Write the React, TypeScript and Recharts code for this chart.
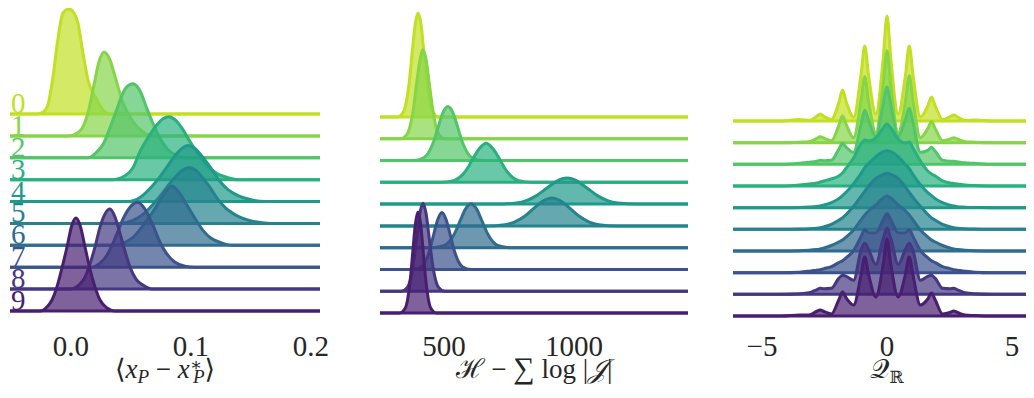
import { AreaChart, Area, XAxis, YAxis, ReferenceDot } from 'recharts';

const SERIF = '"Liberation Serif", "DejaVu Serif", serif';
const INK = '#262626';

const RIDGE_NAMES = ['0', '1', '2', '3', '4', '5', '6', '7', '8', '9'];
const COLORS = ['#c2df23', '#86d549', '#52c569', '#2ab07f', '#1f9a8a', '#25838e', '#2f6c8e', '#3b528b', '#453781', '#481f70'];

// left panel: <x_P - x_P*>, [value, density] per ridge
const POS_ERR: [number, number][][] = [
  [[-0.028, 0], [-0.023, 2], [-0.019, 10], [-0.015, 37], [-0.011, 74], [-0.0067, 101], [-0.0017, 105], [0.0025, 101], [0.0058, 91], [0.01, 61], [0.0142, 34], [0.0217, 14], [0.0267, 4], [0.0325, 0]],
  [[-0.002, 0], [0.0067, 4], [0.0108, 11], [0.015, 27], [0.0192, 51], [0.0233, 74], [0.0275, 84], [0.0325, 76], [0.0375, 56], [0.0433, 33], [0.0517, 14], [0.06, 4], [0.07, 0]],
  [[0.0142, 0], [0.0217, 6], [0.0275, 15], [0.0325, 30], [0.0375, 46], [0.0417, 60], [0.0458, 70], [0.0517, 74], [0.0575, 67], [0.0633, 49], [0.0692, 32], [0.075, 18], [0.08, 9], [0.0867, 3], [0.095, 0]],
  [[0.0342, 0], [0.045, 4], [0.0517, 12], [0.0575, 28], [0.0642, 42], [0.0717, 55], [0.0767, 61], [0.0817, 63], [0.0875, 59], [0.0933, 50], [0.0992, 38], [0.1075, 23], [0.1142, 13], [0.1217, 6], [0.1308, 2], [0.1392, 0]],
  [[0.0475, 0], [0.0575, 4], [0.0658, 13], [0.0742, 25], [0.0808, 36], [0.0875, 47], [0.0925, 53], [0.0975, 56], [0.1033, 53], [0.11, 44], [0.1175, 32], [0.1242, 20], [0.1308, 12], [0.1392, 6], [0.1492, 2], [0.1617, 0]],
  [[0.0408, 0], [0.0517, 3], [0.06, 9], [0.0683, 19], [0.0767, 31], [0.085, 44], [0.0917, 52], [0.0983, 56], [0.1042, 53], [0.11, 45], [0.1158, 36], [0.1225, 24], [0.1292, 15], [0.135, 10], [0.1433, 5], [0.1517, 2], [0.1658, 0]],
  [[0.0367, 0], [0.045, 3], [0.0517, 8], [0.0583, 17], [0.065, 28], [0.0717, 40], [0.0783, 53], [0.0842, 59], [0.09, 53], [0.0967, 40], [0.1033, 27], [0.11, 15], [0.1167, 7], [0.1242, 3], [0.1342, 0]],
  [[0.0175, 0], [0.0242, 4], [0.03, 12], [0.035, 24], [0.0392, 36], [0.0433, 48], [0.0492, 60], [0.0558, 65], [0.0617, 58], [0.0683, 42], [0.0742, 25], [0.08, 13], [0.0867, 5], [0.095, 1], [0.1033, 0]],
  [[-0.0008, 0], [0.0075, 5], [0.0117, 12], [0.0158, 25], [0.02, 42], [0.0242, 62], [0.0283, 75], [0.0325, 80], [0.0367, 72], [0.0408, 56], [0.045, 38], [0.0492, 22], [0.0542, 10], [0.06, 4], [0.0675, 0]],
  [[-0.0258, 0], [-0.02, 4], [-0.0158, 11], [-0.0117, 24], [-0.0075, 43], [-0.0033, 64], [0.0008, 86], [0.0042, 93], [0.0075, 86], [0.0117, 64], [0.0158, 42], [0.02, 24], [0.0242, 11], [0.03, 3], [0.0367, 0]],
];
const POS_TICKS = [0, 0.1, 0.2];
const POS_TICK_LABELS = ['0.0', '0.1', '0.2'];

// middle panel: H - sum log|J|
const ENERGY: [number, number][][] = [
  [[320, 0], [343, 4.6], [354, 14], [366, 34], [377, 63], [389, 92], [400, 104], [412, 92], [423, 63], [435, 34], [446, 14], [458, 4.6], [481, 0]],
  [[331, 0], [356, 3.9], [369, 12], [382, 29], [394, 54], [407, 78], [419, 89], [432, 78], [444, 54], [457, 29], [469, 12], [482, 3.9], [507, 0]],
  [[382, 0], [420, 2.4], [439, 7.3], [458, 17.5], [477, 33], [496, 48], [515, 54], [534, 48], [553, 33], [572, 17.5], [591, 7.3], [610, 2.4], [648, 0]],
  [[487, 0], [537, 1.7], [562, 5.3], [587, 12.7], [612, 24], [637, 34], [662, 39], [687, 34], [712, 24], [737, 12.7], [762, 5.3], [787, 1.7], [837, 0]],
  [[700, 0], [778, 1.1], [817, 3.5], [856, 8.5], [895, 15.8], [934, 23], [973, 26], [1012, 23], [1051, 15.8], [1090, 8.5], [1129, 3.5], [1168, 1.1], [1246, 0]],
  [[663, 0], [735, 1.2], [771, 3.8], [807, 9.1], [843, 17], [879, 24.7], [915, 28], [951, 24.7], [987, 17], [1023, 9.1], [1059, 3.8], [1095, 1.2], [1167, 0]],
  [[457, 0], [499, 1.9], [520, 5.9], [541, 14.3], [562, 26.7], [583, 38.8], [604, 44], [625, 38.8], [646, 26.7], [667, 14.3], [688, 5.9], [709, 1.9], [751, 0]],
  [[380, 0], [412, 2.5], [428, 7.7], [444, 18.5], [460, 34.6], [476, 50], [492, 57], [508, 50], [524, 34.6], [540, 18.5], [556, 7.7], [572, 2.5], [604, 0]],
  [[335, 0], [359, 3.9], [371, 11.9], [383, 28.6], [395, 53.4], [407, 77.6], [419, 88], [431, 77.6], [443, 53.4], [455, 28.6], [467, 11.9], [479, 3.9], [503, 0]],
  [[330, 0], [350, 4.4], [360, 13.6], [370, 32.8], [380, 61.3], [390, 89], [400, 101], [410, 89], [420, 61.3], [430, 32.8], [440, 13.6], [450, 4.4], [470, 0]],
];
const ENERGY_TICKS = [500, 1000];
const ENERGY_TICK_LABELS = ['500', '1000'];

// right panel: Q_R, one shared grid of charge values
const CHARGE_GRID = [-4.2, -3.5, -3.115, -2.82, -2.67, -2.52, -2.225, -1.93, -1.78, -1.63, -1.335, -1.04, -0.89, -0.74, -0.445, -0.15, 0, 0.15, 0.445, 0.74, 0.89, 1.04, 1.335, 1.63, 1.78, 1.93, 2.225, 2.52, 2.67, 2.82, 3.115, 3.5, 4.2];
const CHARGE: number[][] = [
  [0, 1.5, 0.5, 4.5, 7, 4.5, 1.5, 18, 31, 19, 4, 46, 75, 46, 7, 63, 105, 63, 7, 46, 75, 46, 4, 15, 24, 15, 1.5, 4, 6, 4, 0.5, 1, 0],
  [0, 0.5, 1, 4, 6, 4.5, 2, 17, 27, 18, 5, 42, 66, 42, 10, 58, 92, 58, 10, 42, 67, 42, 5, 14, 21, 14, 2, 3.5, 5, 3.5, 1, 0.5, 0],
  [0, 1, 2, 3, 4, 3.5, 4, 15, 21, 17, 12, 40, 54, 44, 28, 60, 77, 60, 28, 45, 56, 42, 12, 14, 17, 13, 4, 3, 3, 2.5, 1.5, 1, 0],
  [0, 1, 2, 3, 4, 5, 7, 10, 13, 18, 28, 42, 46, 45, 48, 58, 62, 58, 47, 43, 44, 38, 25, 15, 12, 10, 5, 3, 2.5, 2, 1, 0.5, 0],
  [0, 0.2, 0.6, 1.2, 1.8, 2.6, 5, 9, 12, 15.5, 24, 34, 40, 44, 51, 56, 57, 56, 51, 43, 39, 33, 23, 15, 12, 9, 5, 2.5, 1.6, 1, 0.5, 0.1, 0],
  [0, 0.2, 0.5, 1, 1.5, 2.5, 5, 9, 11.5, 15, 23, 33, 38, 43, 51, 55, 56, 55, 51, 42, 37, 32, 23, 15, 11.5, 9, 5, 2.5, 1.5, 1, 0.5, 0.2, 0],
  [0, 0.3, 0.8, 1.5, 2, 3, 5.5, 9, 11, 14, 21, 31, 36, 40, 46, 53, 55, 53, 46, 40, 36, 31, 21, 14, 11, 9, 5.5, 3, 2, 1.5, 0.8, 0.3, 0],
  [0, 0.5, 1.5, 2.5, 3, 4, 6, 10, 12, 15, 22, 36, 43, 40, 40, 53, 59, 53, 40, 40, 43, 36, 22, 15, 12, 10, 6, 4, 3, 2.5, 1.5, 0.5, 0],
  [0, 0.5, 1.5, 4.5, 6, 5.5, 6, 16, 19, 18, 14, 44, 51, 45, 30, 56, 66, 56, 30, 45, 51, 44, 14, 18, 19, 16, 6, 5.5, 6, 4.5, 1.5, 0.5, 0],
  [0, 1, 1, 4.5, 6, 4.5, 2, 16, 24, 18, 11, 41, 59, 42, 19, 52, 77, 52, 19, 42, 59, 41, 11, 17, 23, 16, 2, 3.5, 5, 3.5, 1, 0.5, 0],
];
const CHARGE_TICKS = [-5, 0, 5];
const CHARGE_TICK_LABELS = ['\u22125', '0', '5'];

const CHART_H = 398;
const AXIS_H = 68;
const SIDE = 30;

type PanelProps = {
  left: number;
  width: number;
  xDomain: [number, number];
  ridges: [number, number][][];
  ticks: number[];
  tickLabels: string[];
  lastBase: number;
  spacing: number;
  showNames?: boolean;
  title: (cx: number) => React.ReactNode;
};

function RidgePanel({ left, width, xDomain, ridges, ticks, tickLabels, lastBase, spacing, showNames, title }: PanelProps) {
  const plotH = CHART_H - AXIS_H;
  const offsets = ridges.map((_, i) => (ridges.length - 1 - i) * spacing);
  return (
    <div style={{ position: 'absolute', left: left - SIDE, top: 0 }}>
      <AreaChart width={width + 2 * SIDE} height={CHART_H} margin={{ top: 0, right: SIDE, bottom: 0, left: SIDE }}>
        <XAxis
          type="number"
          dataKey="x"
          domain={xDomain}
          allowDataOverflow
          ticks={ticks}
          interval={0}
          height={AXIS_H}
          axisLine={false}
          tickLine={false}
          tickMargin={-1}
          tick={{ fill: INK, fontSize: 29, fontFamily: SERIF }}
          tickFormatter={(v: number) => tickLabels[ticks.indexOf(v)]}
          label={(p: any) => title(p.viewBox.x + p.viewBox.width / 2)}
        />
        <YAxis type="number" hide domain={[lastBase - plotH, lastBase]} allowDataOverflow />
        {ridges.map((pts, i) => {
          const off = offsets[i];
          const data = [
            { x: xDomain[0], v: [off, off] },
            ...pts.map(([x, h]) => ({ x, v: [off, off + h] })),
            { x: xDomain[1], v: [off, off] },
          ];
          return (
            <Area
              key={RIDGE_NAMES[i]}
              data={data}
              dataKey="v"
              type="monotone"
              stroke={COLORS[i]}
              strokeWidth={3}
              fill={COLORS[i]}
              fillOpacity={0.7}
              dot={false}
              activeDot={false}
              isAnimationActive={false}
            />
          );
        })}
        {showNames &&
          offsets.map((off, i) => (
            <ReferenceDot
              key={'n' + i}
              x={xDomain[0]}
              y={off}
              ifOverflow="visible"
              shape={(p: any) => (
                <text x={p.cx + 1} y={p.cy - 1} fill={COLORS[i]} fontSize={29} fontFamily={SERIF}>
                  {RIDGE_NAMES[i]}
                </text>
              )}
            />
          ))}
      </AreaChart>
    </div>
  );
}

const TITLE_Y = 378;

function PosTitle(cx: number) {
  return (
    <text x={cx} y={TITLE_Y} textAnchor="middle" fontFamily={SERIF} fontSize={27} fill={INK}>
      <tspan>⟨</tspan>
      <tspan fontStyle="italic">x</tspan>
      <tspan fontStyle="italic" fontSize={19} dy={5}>P</tspan>
      <tspan dy={-5}> − </tspan>
      <tspan fontStyle="italic">x</tspan>
      <tspan fontSize={18} dy={-7}>∗</tspan>
      <tspan fontStyle="italic" fontSize={19} dx={-9} dy={12}>P</tspan>
      <tspan dy={-5}>⟩</tspan>
    </text>
  );
}

function EnergyTitle(cx: number) {
  return (
    <text x={cx} y={TITLE_Y} textAnchor="middle" fontFamily={SERIF} fontSize={27} fill={INK}>
      <tspan>ℋ</tspan>
      <tspan> − </tspan>
      <tspan fontSize={30}>∑</tspan>
      <tspan> log |</tspan>
      <tspan fontStyle="italic">𝒥</tspan>
      <tspan>|</tspan>
    </text>
  );
}

function ChargeTitle(cx: number) {
  return (
    <text x={cx} y={TITLE_Y} textAnchor="middle" fontFamily={SERIF} fontSize={27} fill={INK}>
      <tspan>𝒬</tspan>
      <tspan fontSize={17} dy={5}>ℝ</tspan>
    </text>
  );
}

const chargeRidges: [number, number][][] = CHARGE.map((row) => row.map((h, j) => [CHARGE_GRID[j], h] as [number, number]));

export default function App() {
  return (
    <div style={{ position: 'relative', width: 1034, height: 398, margin: '-8px 0 0 -8px', overflow: 'hidden', background: '#fff' }}>
      <RidgePanel
        left={10}
        width={310}
        xDomain={[-0.0508, 0.2075]}
        ridges={POS_ERR}
        ticks={POS_TICKS}
        tickLabels={POS_TICK_LABELS}
        lastBase={311}
        spacing={21.89}
        showNames
        title={PosTitle}
      />
      <RidgePanel
        left={380}
        width={308}
        xDomain={[253.8, 1438.5]}
        ridges={ENERGY}
        ticks={ENERGY_TICKS}
        tickLabels={ENERGY_TICK_LABELS}
        lastBase={313}
        spacing={21.78}
        title={EnergyTitle}
      />
      <RidgePanel
        left={733}
        width={308}
        xDomain={[-6.16, 6.16]}
        ridges={chargeRidges}
        ticks={CHARGE_TICKS}
        tickLabels={CHARGE_TICK_LABELS}
        lastBase={316}
        spacing={21.67}
        title={ChargeTitle}
      />
    </div>
  );
}
